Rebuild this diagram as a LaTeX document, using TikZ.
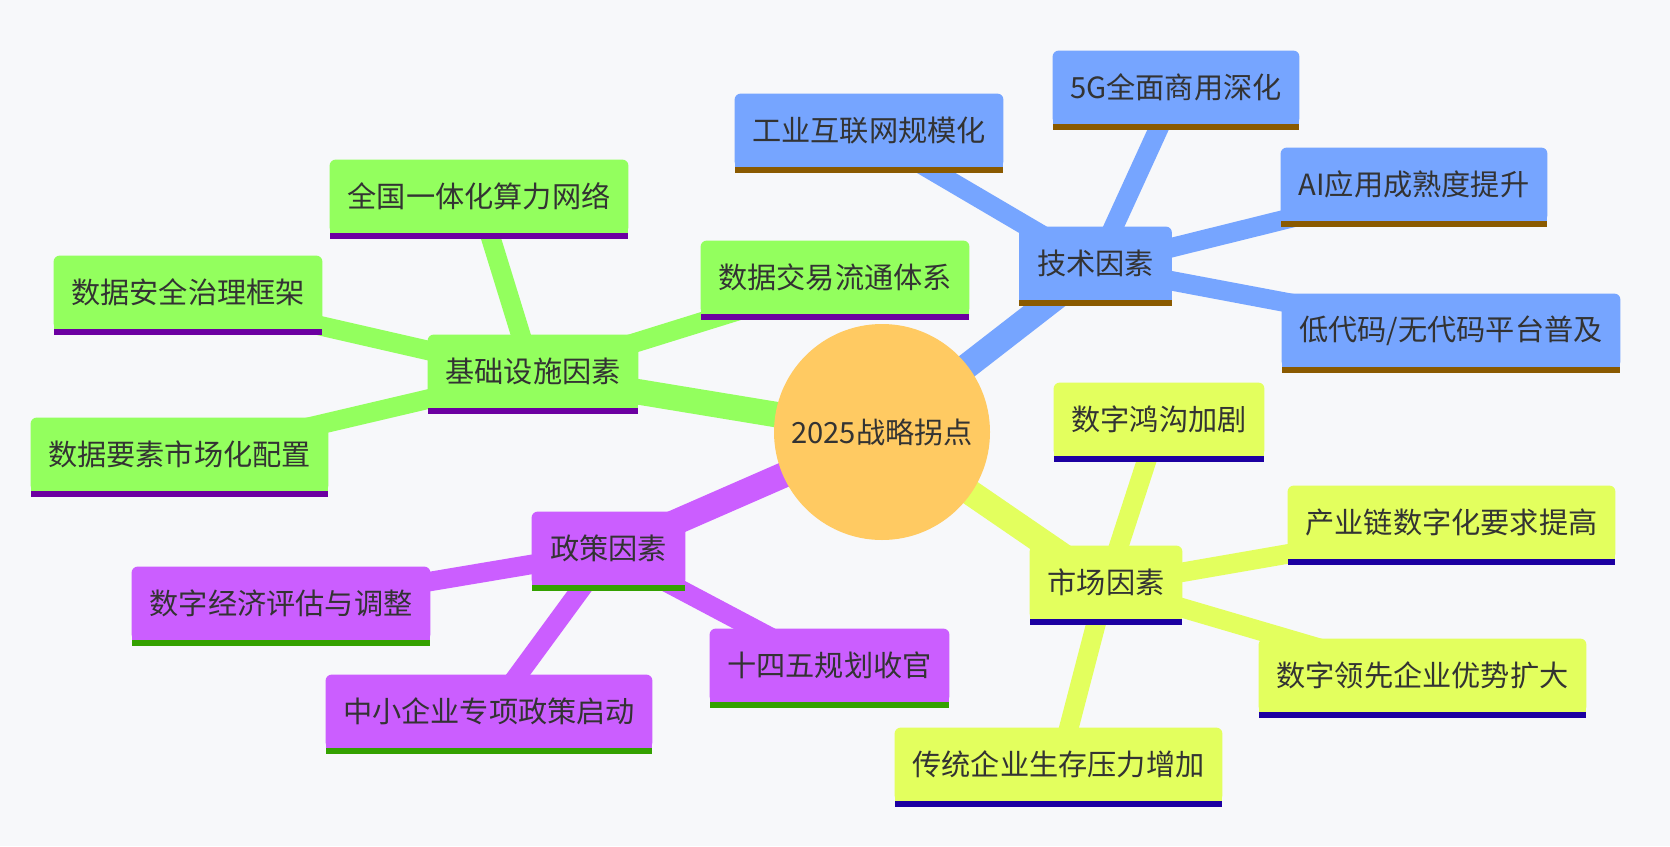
\documentclass[tikz,border=0pt]{standalone}
\usepackage{fontspec}
\setmainfont{Noto Sans CJK SC}
\definecolor{bgC}{HTML}{F7F8FA}
\definecolor{blueF}{HTML}{76A5FF}
\definecolor{blueS}{HTML}{8A5A00}
\definecolor{greenF}{HTML}{93FF5E}
\definecolor{greenS}{HTML}{6C00A1}
\definecolor{purpF}{HTML}{CB5EFF}
\definecolor{purpS}{HTML}{34A100}
\definecolor{yelF}{HTML}{E3FF5E}
\definecolor{yelS}{HTML}{1C00A1}
\definecolor{rootF}{HTML}{FFCA62}
\definecolor{txtC}{HTML}{333333}
\pgfdeclarelayer{edgelayer}
\pgfdeclarelayer{boxlayer}
\pgfsetlayers{edgelayer,boxlayer,main}
\newcommand\mmbox[3]{%
  \begin{pgfonlayer}{boxlayer}
    \fill[#2, rounded corners=3pt] (#1.south west) rectangle (#1.north east);
    \fill[#2] (#1.south west) rectangle (#1.east);
    \fill[#3] (#1.south west) rectangle ([yshift=-3pt]#1.south east);
  \end{pgfonlayer}}
\tikzset{
  mm/.style={inner sep=0pt, minimum height=36.5pt, text=txtC, font=\fontsize{14.6pt}{17pt}\selectfont},
  bw/.style={minimum width=#1*0.5pt},
  rootnode/.style={circle, fill=rootF, inner sep=0pt, minimum size=108pt, text=txtC, font=\fontsize{14.6pt}{17pt}\selectfont},
  rootedge/.style={line width=12.75pt},
  leafedge/.style={line width=9.75pt},
}
\begin{document}
\begin{tikzpicture}[x=0.5pt,y=-0.5pt]
\begin{pgfonlayer}{edgelayer}
\fill[bgC] (0,0) rectangle (1670,846);
\end{pgfonlayer}
\useasboundingbox (0,0) rectangle (1670,846);

\node[rootnode] (root) at (882,432) {2025战略拐点};

% technology
\node[mm,bw=152] (t)  at (1095.5,263.5) {技术因素};
\node[mm,bw=268] (t1) at (869,130.5) {工业互联网规模化};
\node[mm,bw=246] (t2) at (1176,87.5) {5G全面商用深化};
\node[mm,bw=266] (t3) at (1414,184.5) {AI应用成熟度提升};
\node[mm,bw=338] (t4) at (1451,330.5) {低代码/无代码平台普及};

% infrastructure
\node[mm,bw=210] (i)  at (533,371.5) {基础设施因素};
\node[mm,bw=298] (i1) at (479,196.5) {全国一体化算力网络};
\node[mm,bw=268] (i2) at (188,292.5) {数据安全治理框架};
\node[mm,bw=268] (i3) at (835,277.5) {数据交易流通体系};
\node[mm,bw=297] (i4) at (179.5,454.5) {数据要素市场化配置};

% policy
\node[mm,bw=153] (p)  at (608.5,548.5) {政策因素};
\node[mm,bw=298] (p1) at (281,603.5) {数字经济评估与调整};
\node[mm,bw=326] (p2) at (489,711.5) {中小企业专项政策启动};
\node[mm,bw=239] (p3) at (829.5,665.5) {十四五规划收官};

% market
\node[mm,bw=152] (m)  at (1106,582.5) {市场因素};
\node[mm,bw=210] (m1) at (1159,419.5) {数字鸿沟加剧};
\node[mm,bw=327] (m2) at (1451.5,522.5) {产业链数字化要求提高};
\node[mm,bw=327] (m3) at (1422.5,675.5) {数字领先企业优势扩大};
\node[mm,bw=327] (m4) at (1058.5,764.5) {传统企业生存压力增加};

\foreach \n in {t,t1,t2,t3,t4}{\mmbox{\n}{blueF}{blueS}}
\foreach \n in {i,i1,i2,i3,i4}{\mmbox{\n}{greenF}{greenS}}
\foreach \n in {p,p1,p2,p3}{\mmbox{\n}{purpF}{purpS}}
\foreach \n in {m,m1,m2,m3,m4}{\mmbox{\n}{yelF}{yelS}}

\begin{pgfonlayer}{edgelayer}
\draw[rootedge,blueF]   ([yshift=-1.5pt]t.center) -- (root.center);
\draw[rootedge,greenF]  ([yshift=-1.5pt]i.center) -- (root.center);
\draw[rootedge,purpF]   ([yshift=-1.5pt]p.center) -- (root.center);
\draw[rootedge,yelF]    ([yshift=-1.5pt]m.center) -- (root.center);
\foreach \a/\b in {t/t1,t/t2,t/t3,t/t4}
  \draw[leafedge,blueF] ([yshift=-1.5pt]\a.center) -- ([yshift=-1.5pt]\b.center);
\foreach \a/\b in {i/i1,i/i2,i/i3,i/i4}
  \draw[leafedge,greenF] ([yshift=-1.5pt]\a.center) -- ([yshift=-1.5pt]\b.center);
\foreach \a/\b in {p/p1,p/p2,p/p3}
  \draw[leafedge,purpF] ([yshift=-1.5pt]\a.center) -- ([yshift=-1.5pt]\b.center);
\foreach \a/\b in {m/m1,m/m2,m/m3,m/m4}
  \draw[leafedge,yelF] ([yshift=-1.5pt]\a.center) -- ([yshift=-1.5pt]\b.center);
\end{pgfonlayer}
\end{tikzpicture}
\end{document}
